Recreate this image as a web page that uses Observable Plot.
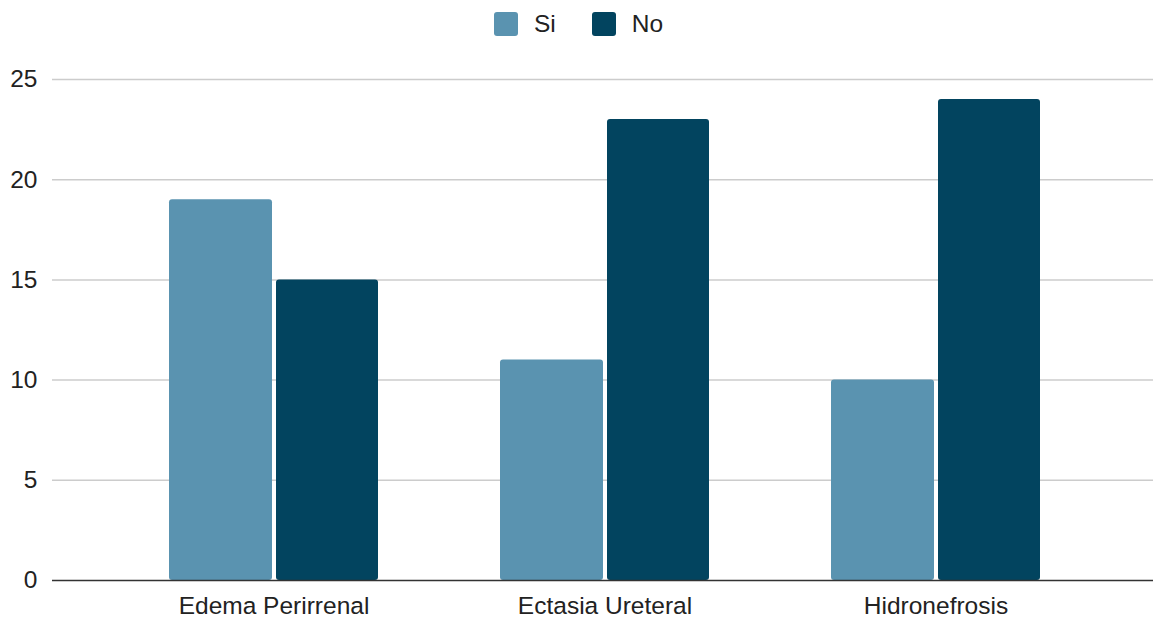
<!DOCTYPE html>
<html>
<head>
<meta charset="utf-8">
<script src="https://cdn.jsdelivr.net/npm/d3@7"></script>
<script src="https://cdn.jsdelivr.net/npm/@observablehq/plot@0.6"></script>
<style>
  html, body { margin: 0; padding: 0; background: #fff; }
  body { width: 1153px; height: 621px; overflow: hidden; font-family: "Liberation Sans", Arial, sans-serif; }
  #legend { height: 48px; display: flex; justify-content: center; align-items: center; font-size: 24.5px; color: #222; padding-left: 4px; }
  .item { display: flex; align-items: center; }
  .sw { width: 24px; height: 24px; border-radius: 3px; display: inline-block; }
  .item + .item { margin-left: 36px; }
  .lab { margin-left: 16px; }
</style>
</head>
<body>
<div id="legend"></div>
<div id="chart"></div>
<script>
const categories = ["Edema Perirrenal", "Ectasia Ureteral", "Hidronefrosis"];
const series = ["Si", "No"];
const siValues = [19, 11, 10];
const noValues = [15, 23, 24];
const yTicks = [0, 5, 10, 15, 20, 25];
const colors = ["#5a93b0", "#02445f"];

const rows = categories.flatMap((c, i) => [
  {category: c, series: "Si", value: siValues[i]},
  {category: c, series: "No", value: noValues[i]}
]);

const legend = document.getElementById("legend");
series.forEach((s, i) => {
  const it = document.createElement("div");
  it.className = "item";
  it.innerHTML = `<span class="sw" style="background:${colors[i]}"></span><span class="lab">${s}</span>`;
  legend.appendChild(it);
});

const chart = Plot.plot({
  width: 1153,
  height: 573,
  marginTop: 31,
  marginBottom: 41,
  marginLeft: 52,
  marginRight: 0,
  style: {fontFamily: "'Liberation Sans', Arial, sans-serif", fontSize: "24.5px", color: "#222", background: "#fff"},
  x: {domain: categories, range: [107.5, 1100.5], padding: 0, label: null, tickSize: 0, tickPadding: 16},
  y: {domain: [0, 25], ticks: yTicks, label: null, tickSize: 0, tickPadding: 15},
  marks: [
    Plot.ruleY(yTicks.filter(d => d > 0), {stroke: "#cccccc", strokeWidth: 1.5}),
    Plot.barY(rows.filter(d => d.series === "Si"), {x: "category", y: "value", fill: colors[0], insetLeft: 61, insetRight: 167, rx: 3}),
    Plot.barY(rows.filter(d => d.series === "No"), {x: "category", y: "value", fill: colors[1], insetLeft: 168, insetRight: 61, rx: 3}),
    Plot.ruleY([0], {stroke: "#333", strokeWidth: 1.5})
  ]
});
document.getElementById("chart").appendChild(chart);
</script>
</body>
</html>
